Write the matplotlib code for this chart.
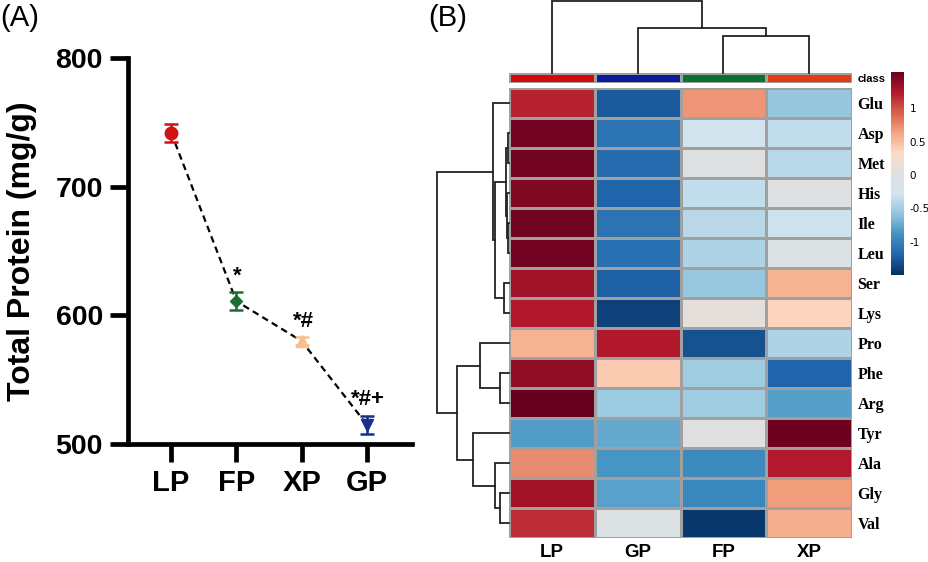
import numpy as np
import matplotlib
matplotlib.use('Agg')
import matplotlib.pyplot as plt
from matplotlib.colors import LinearSegmentedColormap, ListedColormap

# Panel A data
groups = ['LP', 'FP', 'XP', 'GP']
protein_mean = [742, 611, 580, 515]
protein_err = [7, 7, 3, 7]
marks = ['', '*', '*#', '*#+']
group_colors = ['#d41111', '#1d6e32', '#f8c08f', '#1a2e8c']
group_markers = ['o', 'D', '^', 'v']
marker_sizes = [9, 6.5, 9, 9]

# Panel B data
amino_acids = ['Glu', 'Asp', 'Met', 'His', 'Ile', 'Leu', 'Ser', 'Lys',
               'Pro', 'Phe', 'Arg', 'Tyr', 'Ala', 'Gly', 'Val']
heat_cols = ['LP', 'GP', 'FP', 'XP']
class_colors = ['#d40a0a', '#0c1a9c', '#08722e', '#e03a16']
zscores = np.array([
    [1.20, -1.25, 0.70, -0.57],
    [1.50, -1.10, -0.25, -0.35],
    [1.50, -1.15, 0.00, -0.40],
    [1.45, -1.20, -0.35, 0.00],
    [1.50, -1.10, -0.40, -0.30],
    [1.50, -1.12, -0.45, -0.05],
    [1.30, -1.22, -0.55, 0.55],
    [1.25, -1.40, 0.08, 0.38],
    [0.55, 1.25, -1.30, -0.45],
    [1.38, 0.42, -0.52, -1.20],
    [1.55, -0.53, -0.52, -0.82],
    [-0.83, -0.75, 0.03, 1.52],
    [0.75, -0.88, -0.95, 1.23],
    [1.30, -0.80, -0.97, 0.66],
    [1.15, -0.05, -1.45, 0.58],
])

# clustering trees: (left, right, height)
col_tree = ('LP', ('GP', ('FP', 'XP', 37), 44.4), 72)
row_tree = (
    ('Glu', ((('Asp', 'Met', 1.7), ('His', ('Ile', 'Leu', 0.8), 2.0), 3.0),
             ('Ser', 'Lys', 5.7), 14.7), 16.7),
    (('Pro', ('Phe', 'Arg', 9.7), 29),
     ('Tyr', ('Ala', ('Gly', 'Val', 9.7), 14), 35.7), 52.3),
    71.7)


def draw_tree(ax, node, order, vertical):
    # returns (position, height) of node, drawing its links
    if isinstance(node, str):
        return order.index(node) + 0.5, 0
    left, right, h = node
    p1, h1 = draw_tree(ax, left, order, vertical)
    p2, h2 = draw_tree(ax, right, order, vertical)
    if vertical:
        ax.plot([p1, p1, p2, p2], [h1, h, h, h2], color='#222222', lw=1.3,
                clip_on=False, solid_joinstyle='miter')
    else:
        ax.plot([h1, h, h, h2], [p1, p1, p2, p2], color='#222222', lw=1.3,
                clip_on=False, solid_joinstyle='miter')
    return (p1 + p2) / 2, h


fig = plt.figure(figsize=(9.29, 5.62), dpi=100)

# ---- Panel A
ax = fig.add_axes([128 / 929, 1 - 444 / 562, 284 / 929, 386 / 562])
x = np.arange(len(groups))
ax.plot(x, protein_mean, color='black', lw=1.6, linestyle=(0, (3, 2)), zorder=1)
for i in range(len(groups)):
    ax.errorbar(x[i], protein_mean[i], yerr=protein_err[i], fmt=group_markers[i],
                color=group_colors[i], ms=marker_sizes[i], capsize=5, capthick=1.8,
                elinewidth=1.8, zorder=3)
    if marks[i]:
        ax.annotate(marks[i], (x[i], protein_mean[i] + protein_err[i]),
                    xytext=(1, 4), textcoords='offset points', ha='center',
                    va='bottom', fontsize=16, fontweight='bold',
                    family='Liberation Sans')

ax.set_xlim(-0.66, 3.69)
ax.set_ylim(500, 800)
ax.set_yticks([500, 600, 700, 800])
ax.set_xticks(x)
ax.set_xticklabels(groups)
for s in ['top', 'right']:
    ax.spines[s].set_visible(False)
for s in ['left', 'bottom']:
    ax.spines[s].set_linewidth(3.4)
ax.tick_params(length=13, width=3.4, pad=5)
for lab in ax.get_xticklabels():
    lab.set_fontsize(21)
    lab.set_fontweight('bold')
    lab.set_family('Liberation Sans')
for lab in ax.get_yticklabels():
    lab.set_fontsize(20.5)
    lab.set_fontweight('bold')
    lab.set_family('Liberation Sans')
ax.set_ylabel('Total Protein (mg/g)', fontsize=23, fontweight='bold',
              family='Liberation Sans')
ax.yaxis.set_label_coords((37 - 128) / 284, 0.5)

fig.text(0.0, 1 - 18 / 562, '(A)', fontsize=21, va='center', ha='left',
         family='Liberation Sans')
fig.text(428 / 929, 1 - 18 / 562, '(B)', fontsize=21, va='center', ha='left',
         family='Liberation Sans')

# ---- Panel B
cmap = LinearSegmentedColormap.from_list('rdbu_grey', [
    '#053061', '#2166ac', '#4393c3', '#92c5de', '#d1e5f0', '#e0e0e0',
    '#fddbc7', '#f4a582', '#d6604d', '#b2182b', '#67001f'])

hx0, hw = 509.3 / 929, 342.7 / 929
hax = fig.add_axes([hx0, 1 - 538.3 / 562, hw, 450 / 562])
mesh = hax.pcolormesh(zscores, cmap=cmap, vmin=-1.5, vmax=1.55,
                      edgecolors='#a0a0a0', linewidth=1.0)
hax.set_xlim(0, 4)
hax.set_ylim(15, 0)
hax.set_yticks(np.arange(15) + 0.5)
hax.set_yticklabels(amino_acids)
hax.yaxis.tick_right()
hax.set_xticks(np.arange(4) + 0.5)
hax.set_xticklabels(heat_cols)
hax.tick_params(length=0, pad=4)
for lab in hax.get_yticklabels():
    lab.set_fontsize(11.5)
    lab.set_fontweight('bold')
    lab.set_family('Liberation Serif')
for lab in hax.get_xticklabels():
    lab.set_fontsize(13.5)
    lab.set_fontweight('bold')
    lab.set_family('Liberation Sans')
for s in hax.spines.values():
    s.set_visible(False)

# class bar
cax_bar = fig.add_axes([hx0, 1 - 83.3 / 562, hw, 10.6 / 562])
cax_bar.pcolormesh(np.arange(4).reshape(1, 4), cmap=ListedColormap(class_colors),
                   edgecolors='#a0a0a0', linewidth=1.0)
cax_bar.set_xlim(0, 4)
cax_bar.set_xticks([])
cax_bar.set_yticks([0.5])
cax_bar.set_yticklabels(['class'])
cax_bar.yaxis.tick_right()
cax_bar.tick_params(length=0, pad=4)
for lab in cax_bar.get_yticklabels():
    lab.set_fontsize(8)
    lab.set_fontweight('bold')
    lab.set_family('Liberation Sans')
for s in cax_bar.spines.values():
    s.set_visible(False)

# column dendrogram
dax = fig.add_axes([hx0, 1 - 72.7 / 562, hw, 72 / 562])
draw_tree(dax, col_tree, heat_cols, True)
dax.set_xlim(0, 4)
dax.set_ylim(0, 72)
dax.axis('off')

# row dendrogram
rax = fig.add_axes([437.3 / 929, 1 - 538.3 / 562, 72 / 929, 450 / 562])
draw_tree(rax, row_tree, amino_acids, False)
rax.set_xlim(71.7, 0)
rax.set_ylim(15, 0)
rax.axis('off')

# colour key
kax = fig.add_axes([890.7 / 929, 1 - 275 / 562, 13.6 / 929, 203.3 / 562])
cb = fig.colorbar(mesh, cax=kax, ticks=[-1, -0.5, 0, 0.5, 1])
cb.outline.set_visible(False)
cb.ax.set_yticklabels(['-1', '-0.5', '0', '0.5', '1'])
cb.ax.tick_params(length=0, labelsize=7.5, pad=4)

fig.savefig('out.png', dpi=100)
